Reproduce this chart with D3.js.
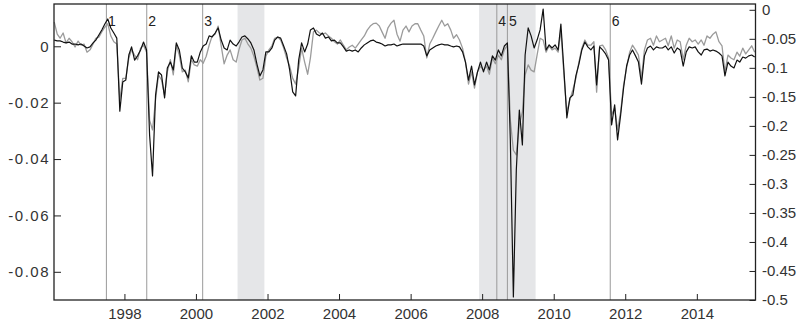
<!DOCTYPE html>
<html>
<head>
<meta charset="utf-8">
<script src="https://cdn.jsdelivr.net/npm/d3@7"></script>
<style>
  body { margin: 0; background: #fff; }
  text { font-family: "Liberation Sans", Arial, sans-serif; fill: #333; }
</style>
</head>
<body>
<script>
"use strict"

// monthly observations, Jan 1996 .. Aug 2015
var months = d3.range(236).map(function(i) { return new Date(1996, i, 15); });

// black series, left axis
var seriesLeft = [
  0.0022, 0.0019, 0.0019, 0.0015, 0.0012, 0.0015, 0.0008, 0.0008, 0.0005, 0.0008, 0.0001, -0.0006,
  -0.0002, 0.0012, 0.0022, 0.0040, 0.0058, 0.0079, 0.0097, 0.0065, 0.0047, 0.0029, -0.0230, -0.0127,
  -0.0120, -0.0031, -0.0002, -0.0049, -0.0034, -0.0013, 0.0015, -0.0013, -0.0315, -0.0460, -0.0173, -0.0091,
  -0.0102, -0.0183, -0.0077, -0.0056, -0.0084, 0.0012, -0.0013, -0.0077, -0.0091, -0.0112, -0.0034, -0.0056,
  -0.0056, -0.0020, 0.0001, 0.0008, 0.0037, 0.0033, 0.0047, 0.0065, 0.0022, -0.0006, -0.0013, 0.0022,
  0.0008, 0.0001, 0.0015, 0.0033, 0.0037, 0.0026, 0.0012, -0.0013, -0.0063, -0.0105, -0.0084, -0.0020,
  -0.0020, -0.0006, 0.0022, 0.0033, 0.0029, 0.0001, -0.0027, -0.0084, -0.0162, -0.0176, -0.0049, 0.0012,
  -0.0020, 0.0008, 0.0058, 0.0065, 0.0044, 0.0037, 0.0047, 0.0029, 0.0033, 0.0019, 0.0022, 0.0012,
  0.0012, -0.0002, -0.0017, -0.0013, -0.0017, -0.0013, -0.0020, -0.0006, 0.0005, 0.0012, 0.0019, 0.0022,
  0.0015, 0.0012, 0.0008, 0.0001, 0.0005, 0.0005, 0.0008, 0.0001, 0.0005, 0.0008, 0.0008, 0.0008,
  0.0008, 0.0008, 0.0008, 0.0008, 0.0001, -0.0034, -0.0013, -0.0006, 0.0001, 0.0005, 0.0008, 0.0005,
  0.0005, 0.0001, -0.0002, 0.0001, -0.0002, -0.0020, -0.0056, -0.0120, -0.0070, -0.0137, -0.0091, -0.0056,
  -0.0091, -0.0056, -0.0084, -0.0034, -0.0049, -0.0013, -0.0034, 0.0001, 0.0012, -0.0332, -0.0889, -0.0439,
  -0.0226, -0.0350, -0.0031, 0.0065, 0.0037, -0.0006, 0.0022, 0.0058, 0.0132, -0.0013, 0.0005, -0.0006,
  0.0005, -0.0013, 0.0079, -0.0084, -0.0254, -0.0183, -0.0173, -0.0105, -0.0063, -0.0013, 0.0015, -0.0002,
  -0.0013, 0.0001, -0.0137, -0.0002, -0.0013, -0.0027, -0.0049, -0.0279, -0.0208, -0.0332, -0.0244, -0.0148,
  -0.0070, -0.0031, -0.0013, -0.0034, -0.0056, -0.0134, -0.0034, -0.0006, 0.0001, -0.0013, -0.0002, -0.0006,
  -0.0006, 0.0001, -0.0013, -0.0002, -0.0024, -0.0006, -0.0013, -0.0070, -0.0020, -0.0002, -0.0006, -0.0002,
  -0.0020, -0.0031, -0.0013, -0.0010, -0.0017, -0.0013, -0.0017, -0.0024, -0.0034, -0.0105, -0.0056, -0.0070,
  -0.0077, -0.0049, -0.0056, -0.0038, -0.0042, -0.0034, -0.0031, -0.0038
];

// grey series, right axis
var seriesRight = [
  -0.021, -0.042, -0.049, -0.040, -0.057, -0.049, -0.055, -0.064, -0.054, -0.061, -0.059, -0.073,
  -0.069, -0.059, -0.049, -0.047, -0.038, -0.030, -0.024, -0.045, -0.055, -0.059, -0.155, -0.118,
  -0.118, -0.083, -0.069, -0.078, -0.086, -0.066, -0.061, -0.073, -0.190, -0.207, -0.155, -0.112,
  -0.121, -0.147, -0.107, -0.086, -0.112, -0.061, -0.078, -0.107, -0.104, -0.124, -0.086, -0.095,
  -0.097, -0.086, -0.092, -0.080, -0.061, -0.045, -0.042, -0.028, -0.062, -0.093, -0.078, -0.069,
  -0.086, -0.090, -0.069, -0.052, -0.049, -0.059, -0.066, -0.080, -0.100, -0.121, -0.118, -0.080,
  -0.069, -0.062, -0.049, -0.047, -0.052, -0.066, -0.083, -0.097, -0.118, -0.128, -0.100, -0.066,
  -0.090, -0.111, -0.083, -0.038, -0.035, -0.040, -0.042, -0.040, -0.045, -0.049, -0.055, -0.059,
  -0.052, -0.061, -0.069, -0.064, -0.061, -0.066, -0.059, -0.052, -0.045, -0.035, -0.028, -0.024,
  -0.023, -0.028, -0.038, -0.049, -0.031, -0.023, -0.018, -0.042, -0.054, -0.035, -0.028, -0.038,
  -0.028, -0.024, -0.024, -0.035, -0.045, -0.083, -0.059, -0.049, -0.038, -0.028, -0.018, -0.028,
  -0.024, -0.035, -0.049, -0.043, -0.052, -0.066, -0.090, -0.128, -0.107, -0.135, -0.107, -0.097,
  -0.104, -0.097, -0.111, -0.083, -0.093, -0.078, -0.086, -0.069, -0.061, -0.190, -0.242, -0.250,
  -0.198, -0.176, -0.112, -0.095, -0.104, -0.107, -0.078, -0.049, -0.052, -0.073, -0.062, -0.069,
  -0.066, -0.073, -0.035, -0.112, -0.176, -0.155, -0.138, -0.118, -0.090, -0.066, -0.052, -0.061,
  -0.061, -0.055, -0.142, -0.062, -0.061, -0.069, -0.083, -0.181, -0.169, -0.207, -0.176, -0.130,
  -0.100, -0.073, -0.061, -0.069, -0.078, -0.118, -0.069, -0.052, -0.049, -0.061, -0.045, -0.055,
  -0.052, -0.049, -0.062, -0.045, -0.066, -0.052, -0.055, -0.086, -0.061, -0.049, -0.055, -0.052,
  -0.059, -0.052, -0.061, -0.045, -0.049, -0.042, -0.038, -0.055, -0.062, -0.107, -0.078, -0.083,
  -0.086, -0.073, -0.080, -0.066, -0.076, -0.069, -0.062, -0.073
];

// recession periods
var recessions = [
  [new Date(2001, 2, 1), new Date(2001, 10, 30)],
  [new Date(2007, 11, 1), new Date(2009, 5, 30)]
];

// numbered events
var eventDates = [new Date(1997, 6, 1), new Date(1998, 7, 17), new Date(2000, 2, 10),
                  new Date(2008, 4, 30), new Date(2008, 8, 15), new Date(2011, 7, 1)];
var eventLabels = ["1", "2", "3", "4", "5", "6"];

var leftTicks = [0, -0.02, -0.04, -0.06, -0.08];
var rightTicks = [0, -0.05, -0.1, -0.15, -0.2, -0.25, -0.3, -0.35, -0.4, -0.45, -0.5];

var plot = {left: 54, right: 755.5, top: 4, bottom: 300};

var svg = d3.select("body").append("svg")
    .attr("width", 799)
    .attr("height", 327);

var x = d3.scaleTime()
    .domain([new Date(1996, 0, 13), new Date(2015, 7, 23)])
    .range([plot.left, plot.right]);

var yLeft = d3.scaleLinear().domain([-0.09, 0.015]).range([plot.bottom, plot.top]);
var yRight = d3.scaleLinear().domain([-0.5, 0.01]).range([plot.bottom, plot.top]);

var fmt = function(d) { return String(+d.toFixed(2)); };

// shaded recessions
svg.selectAll(".rec")
    .data(recessions)
  .enter().append("rect")
    .attr("x", function(d) { return x(d[0]); })
    .attr("y", plot.top)
    .attr("width", function(d) { return x(d[1]) - x(d[0]); })
    .attr("height", plot.bottom - plot.top)
    .attr("fill", "#e5e6e8");

// event lines
svg.selectAll(".ev")
    .data(eventDates)
  .enter().append("line")
    .attr("x1", function(d) { return x(d); })
    .attr("x2", function(d) { return x(d); })
    .attr("y1", plot.top)
    .attr("y2", plot.bottom)
    .attr("stroke", "#9a9a9a")
    .attr("stroke-width", 1);

svg.selectAll(".evlabel")
    .data(eventDates)
  .enter().append("text")
    .attr("x", function(d) { return x(d) + 1.5; })
    .attr("y", 25.5)
    .attr("font-size", "14px")
    .style("fill", "#222")
    .text(function(d, i) { return eventLabels[i]; });

var lineRight = d3.line()
    .x(function(d, i) { return x(months[i]); })
    .y(function(d) { return yRight(d); });

var lineLeft = d3.line()
    .x(function(d, i) { return x(months[i]); })
    .y(function(d) { return yLeft(d); });

svg.append("path")
    .datum(seriesRight)
    .attr("d", lineRight)
    .attr("fill", "none")
    .attr("stroke", "#9b9b9b")
    .attr("stroke-width", 1.3)
    .attr("stroke-linejoin", "round");

svg.append("path")
    .datum(seriesLeft)
    .attr("d", lineLeft)
    .attr("fill", "none")
    .attr("stroke", "#111")
    .attr("stroke-width", 1.2)
    .attr("stroke-linejoin", "round");

// axes
var gx = svg.append("g")
    .attr("transform", "translate(0," + plot.bottom + ")")
    .call(d3.axisBottom(x).ticks(d3.timeYear.every(2)).tickFormat(d3.timeFormat("%Y"))
      .tickSize(-6).tickPadding(8));

var gl = svg.append("g")
    .attr("transform", "translate(" + plot.left + ",0)")
    .call(d3.axisLeft(yLeft).tickValues(leftTicks).tickFormat(fmt).tickSize(-7).tickPadding(4));

var gr = svg.append("g")
    .attr("transform", "translate(" + plot.right + ",0)")
    .call(d3.axisRight(yRight).tickValues(rightTicks).tickFormat(fmt).tickSize(-6).tickPadding(6.5));

[gx, gl, gr].forEach(function(g) {
  g.select(".domain").remove();
  g.selectAll(".tick line").attr("stroke", "#222").attr("stroke-width", 1);
  g.selectAll("text").attr("font-size", "15px").attr("font-family", null).style("fill", "#333");
});
gl.selectAll("text").style("letter-spacing", "1.5px");

// frame
svg.append("rect")
    .attr("x", plot.left)
    .attr("y", plot.top)
    .attr("width", plot.right - plot.left)
    .attr("height", plot.bottom - plot.top)
    .attr("fill", "none")
    .attr("stroke", "#222")
    .attr("stroke-width", 1.3);
</script>
</body>
</html>
